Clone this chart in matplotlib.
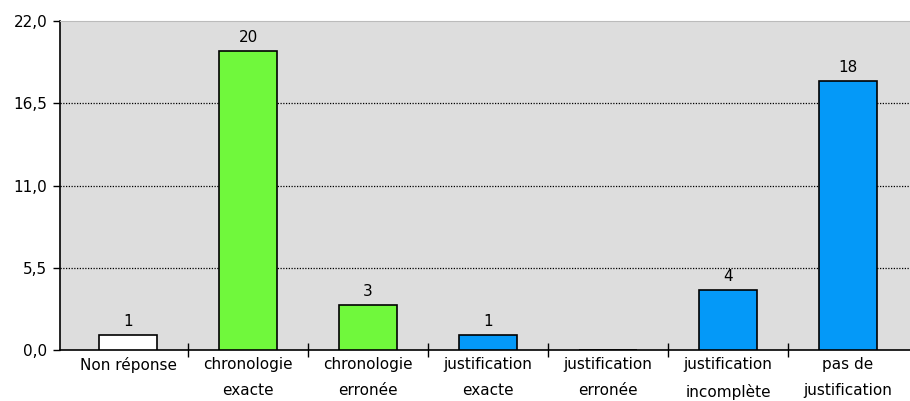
import numpy as np
import matplotlib.pyplot as plt

# données
categories = ['Non réponse', 'chronologie\nexacte', 'chronologie\nerronée',
              'justification\nexacte', 'justification\nerronée',
              'justification\nincomplète', 'pas de\njustification']
valeurs = [1, 20, 3, 1, 0, 4, 18]
couleurs = ['#FFFFFF', '#70F83C', '#70F83C', '#0499F8', '#0499F8', '#0499F8', '#0499F8']
yticks = [0, 5.5, 11, 16.5, 22]
ytick_labels = ['0,0', '5,5', '11,0', '16,5', '22,0']

fig = plt.figure(figsize=(9.1, 4.01), dpi=100)
ax = fig.add_axes([60/910, 51/401, 850/910, 329/401])
ax.set_facecolor('#DDDDDD')

x = np.arange(len(categories))
bars = ax.bar(x, valeurs, width=0.49, color=couleurs, edgecolor='black', linewidth=1.2, zorder=3)

for xi, v in zip(x, valeurs):
    if v > 0:
        ax.text(xi, v + 0.4, str(v), ha='center', va='bottom', fontsize=11)

ax.set_ylim(0, 22)
ax.set_xlim(-0.5 - 8/120, 6.5 + 2/120)
ax.set_yticks(yticks)
ax.set_yticklabels(ytick_labels, fontsize=11)
for y in yticks[1:4]:
    ax.axhline(y, color='black', linestyle=(0, (1, 1.2)), linewidth=0.9, zorder=1)

# graduations entre les catégories
ax.set_xticks(np.arange(0.5, 6, 1))
ax.set_xticklabels([])
ax.tick_params(axis='x', direction='inout', length=10, width=1)
ax.tick_params(axis='y', direction='out', length=5, width=1, pad=4)
for xi, lab in zip(x, categories):
    ax.text(xi, -0.45, lab, ha='center', va='top', fontsize=11, linespacing=1.95,
            transform=ax.transData)

ax.spines['left'].set_linewidth(1.2)
ax.spines['bottom'].set_linewidth(1.2)
ax.spines['top'].set_color('#BBBBBB')
ax.spines['right'].set_visible(False)

plt.savefig('out.png', dpi=100)
